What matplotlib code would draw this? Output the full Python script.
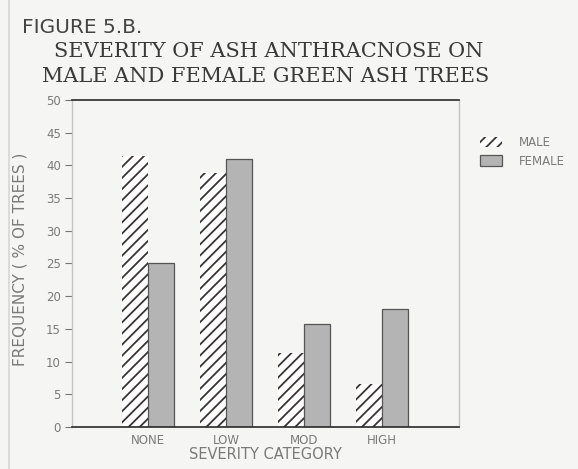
import matplotlib as mpl
mpl.use('Agg')
import matplotlib.pyplot as plt
from matplotlib.patches import Patch
from matplotlib.lines import Line2D
import numpy as np

categories = ['NONE', 'LOW', 'MOD', 'HIGH']
male = [41.5, 38.8, 11.3, 6.6]
female = [25.0, 41.0, 15.8, 18.0]
yticks = [0, 5, 10, 15, 20, 25, 30, 35, 40, 45, 50]

bg = '#f5f5f3'
ink = '#3a3434'
grey_txt = '#7a7a7a'

plt.rcParams['hatch.linewidth'] = 1.3

fig = plt.figure(figsize=(5.78, 4.69), dpi=100, facecolor=bg)
ax = fig.add_axes([0.1246, 0.0896, 0.6694, 0.6972], facecolor=bg)

x = np.arange(len(categories))
w = 0.333
ax.bar(x - w / 2, male, w, facecolor='white', edgecolor=ink,
       hatch='///', linewidth=0)
ax.bar(x + w / 2, female, w, facecolor='#b4b4b4', edgecolor='#555555',
       linewidth=0.9)

ax.set_xlim(-0.975, 3.99)
ax.set_ylim(0, 50)
ax.set_yticks(yticks)
ax.set_xticks(x)
ax.set_xticklabels(categories)
ax.tick_params(axis='y', direction='out', length=5, width=0.8,
               color='#777777', labelsize=8.5, labelcolor=grey_txt, pad=3)
ax.tick_params(axis='x', length=0, labelsize=8.5, labelcolor=grey_txt, pad=5)

for side in ['top', 'bottom']:
    ax.spines[side].set_color('#2a2a2a')
    ax.spines[side].set_linewidth(1.2)
for side in ['left', 'right']:
    ax.spines[side].set_color('#c4c4c4')
    ax.spines[side].set_linewidth(1.0)

ax.set_xlabel('SEVERITY CATEGORY', fontsize=10.5, color=grey_txt, labelpad=0)
fig.text(0.035, 0.448, 'FREQUENCY ( % OF TREES )', rotation=90,
         ha='center', va='center', fontsize=11, color=grey_txt)

# titles
fig.text(0.038, 0.942, 'FIGURE 5.B.', ha='left', va='center',
         fontsize=14.5, color='#444444')
fig.text(0.465, 0.891, 'SEVERITY OF ASH ANTHRACNOSE ON', ha='center',
         va='center', fontsize=15, family='DejaVu Serif', color='#3a3a3a')
fig.text(0.460, 0.836, 'MALE AND FEMALE GREEN ASH TREES', ha='center',
         va='center', fontsize=15, family='DejaVu Serif', color='#3a3a3a')

handles = [Patch(facecolor='white', edgecolor=ink, hatch='///', linewidth=0),
           Patch(facecolor='#b4b4b4', edgecolor='#555555', linewidth=0.9)]
fig.legend(handles, ['MALE', 'FEMALE'], loc='upper left',
           bbox_to_anchor=(0.820, 0.722), frameon=False, fontsize=8.5,
           handlelength=1.9, handleheight=0.95, handletextpad=1.4,
           labelspacing=0.45, borderpad=0, labelcolor=grey_txt)

# page edge
fig.add_artist(Line2D([0.015, 0.015], [0.0, 1.0], color='#d6d6d6', lw=1.2))

plt.savefig('out.png', facecolor=bg)
plt.close()
